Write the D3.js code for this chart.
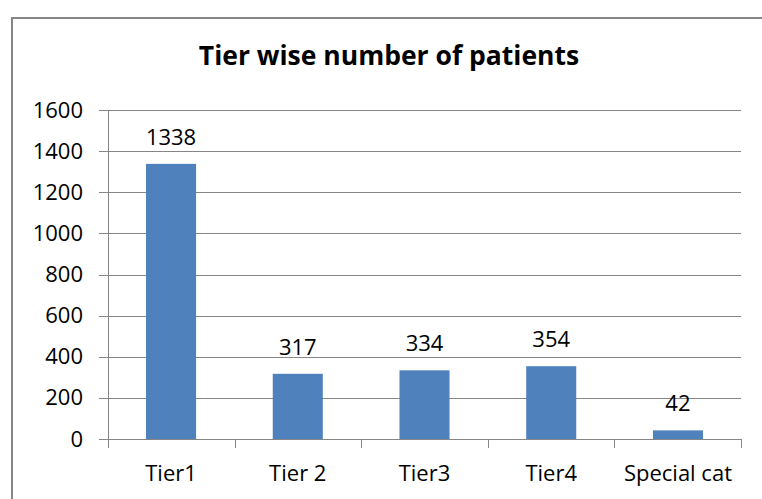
<!DOCTYPE html>
<html>
<head>
<meta charset="utf-8">
<script src="https://cdn.jsdelivr.net/npm/d3@7"></script>
<style>
  body { margin: 0; background: #fff; }
  svg text { font-family: "Open Sans", Lato, sans-serif; fill: #000; }
</style>
</head>
<body>
<svg id="chart" width="762" height="499"></svg>
<script>
const categories = ['Tier1', 'Tier 2', 'Tier3', 'Tier4', 'Special cat']
const patients = [1338, 317, 334, 354, 42]
const yTicks = [0, 200, 400, 600, 800, 1000, 1200, 1400, 1600]

let svg = d3.select('#chart')

// outer frame (right edge runs off the picture)
svg.append('path')
    .attr('d', 'M12,499 V18 H762')
    .attr('fill', 'none')
    .attr('stroke', '#868686')
    .attr('stroke-width', 2)

svg.append('text')
    .attr('x', 389)
    .attr('y', 65)
    .attr('text-anchor', 'middle')
    .style('font-size', '26.5px')
    .style('font-weight', 'bold')
    .text('Tier wise number of patients')

let plotLeft = 108, plotRight = 741, plotTop = 110, plotBottom = 439

let x = d3.scaleBand()
    .domain(categories)
    .range([plotLeft, plotRight])
    .paddingInner(0.605)
    .paddingOuter(0.3)

let y = d3.scaleLinear()
    .domain([0, 1600])
    .range([plotBottom, plotTop])

// gridlines
svg.append('g')
    .selectAll('line')
    .data(yTicks)
    .enter()
    .append('line')
    .attr('x1', plotLeft - 9)
    .attr('x2', plotRight)
    .attr('y1', (d) => Math.round(y(d)) + 0.5)
    .attr('y2', (d) => Math.round(y(d)) + 0.5)
    .attr('stroke', '#868686')
    .attr('stroke-width', 1)

// y axis labels
svg.append('g')
    .selectAll('text')
    .data(yTicks)
    .enter()
    .append('text')
    .attr('x', 83)
    .attr('y', (d) => y(d) + 7.5)
    .attr('text-anchor', 'end')
    .style('font-size', '22px')
    .text((d) => d)

// y axis line
svg.append('line')
    .attr('x1', plotLeft + 0.5).attr('x2', plotLeft + 0.5)
    .attr('y1', plotTop).attr('y2', plotBottom)
    .attr('stroke', '#868686')

// category tick marks
let step = (plotRight - plotLeft) / categories.length
svg.append('g')
    .selectAll('line')
    .data(d3.range(categories.length + 1))
    .enter()
    .append('line')
    .attr('x1', (i) => Math.round(plotLeft + i * step) + 0.5)
    .attr('x2', (i) => Math.round(plotLeft + i * step) + 0.5)
    .attr('y1', plotBottom)
    .attr('y2', plotBottom + 9)
    .attr('stroke', '#868686')

// bars
svg.append('g')
    .selectAll('rect')
    .data(patients)
    .enter()
    .append('rect')
    .attr('x', (d, i) => x(categories[i]))
    .attr('y', (d) => y(d))
    .attr('width', x.bandwidth())
    .attr('height', (d) => plotBottom - y(d))
    .attr('fill', '#4f81bd')

// value labels
svg.append('g')
    .selectAll('text')
    .data(patients)
    .enter()
    .append('text')
    .attr('x', (d, i) => x(categories[i]) + x.bandwidth() / 2)
    .attr('y', (d) => y(d) - 19)
    .attr('text-anchor', 'middle')
    .style('font-size', '22px')
    .text((d) => d)

// category labels
svg.append('g')
    .selectAll('text')
    .data(categories)
    .enter()
    .append('text')
    .attr('x', (d) => x(d) + x.bandwidth() / 2)
    .attr('y', 481)
    .attr('text-anchor', 'middle')
    .style('font-size', '22px')
    .text((d) => d)
</script>
</body>
</html>
